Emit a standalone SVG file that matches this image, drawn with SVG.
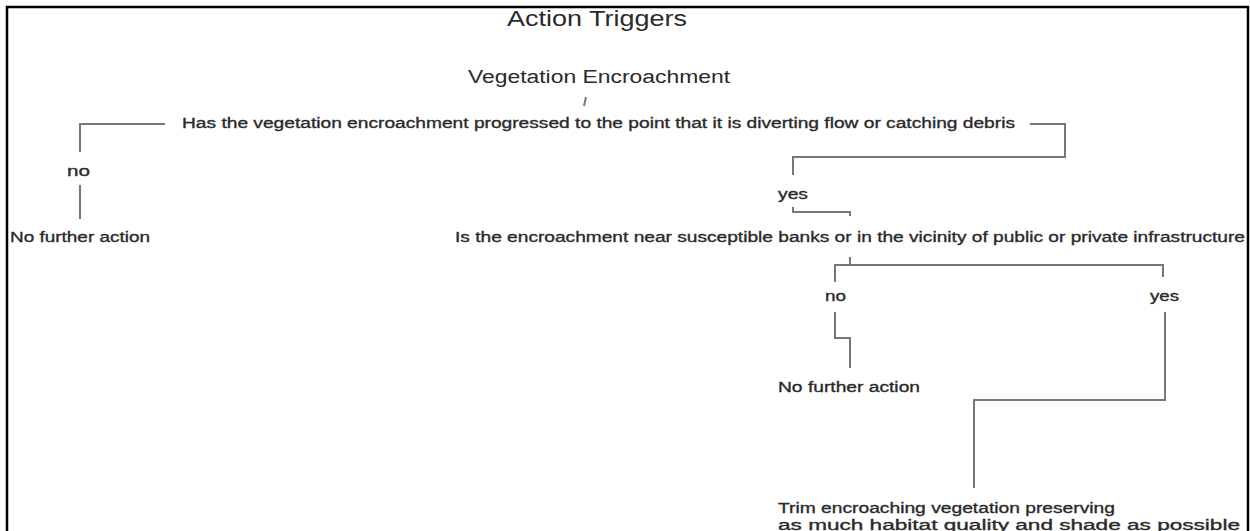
<svg xmlns="http://www.w3.org/2000/svg" width="1250" height="531" viewBox="0 0 1250 531">
<style>
.t{font-family:"Liberation Sans",Arial,sans-serif;fill:#2a2a2a;}
.s{font-size:15.5px;stroke:#2a2a2a;stroke-width:0.35;}
.c{fill:none;stroke:#777;stroke-width:2;}
</style>
<rect x="0" y="0" width="1250" height="531" fill="#fff"/>
<path d="M7,540 V7 H1248 V540" fill="none" stroke="#000" stroke-width="2.5"/>
<g id="title"><text class="t" x="507" y="26" font-size="22" textLength="180" lengthAdjust="spacingAndGlyphs">Action Triggers</text></g>
<g id="start"><text class="t" x="468" y="83" font-size="18" textLength="262" lengthAdjust="spacingAndGlyphs">Vegetation Encroachment</text></g>
<g id="q1"><text class="t s" x="182" y="128" textLength="833" lengthAdjust="spacingAndGlyphs">Has the vegetation encroachment progressed to the point that it is diverting flow or catching debris</text></g>
<g id="no1"><text class="t s" x="67" y="176" textLength="23" lengthAdjust="spacingAndGlyphs">no</text></g>
<g id="end1"><text class="t s" x="10" y="242" textLength="140" lengthAdjust="spacingAndGlyphs">No further action</text></g>
<g id="yes1"><text class="t s" x="778" y="199" textLength="30" lengthAdjust="spacingAndGlyphs">yes</text></g>
<g id="q2"><text class="t s" x="455" y="242" textLength="790" lengthAdjust="spacingAndGlyphs">Is the encroachment near susceptible banks or in the vicinity of public or private infrastructure</text></g>
<g id="no2"><text class="t s" x="825" y="301" textLength="21" lengthAdjust="spacingAndGlyphs">no</text></g>
<g id="yes2"><text class="t s" x="1150" y="301" textLength="29" lengthAdjust="spacingAndGlyphs">yes</text></g>
<g id="end2"><text class="t s" x="778" y="392" textLength="142" lengthAdjust="spacingAndGlyphs">No further action</text></g>
<g id="trim"><text class="t s" x="778" y="513" textLength="337" lengthAdjust="spacingAndGlyphs">Trim encroaching vegetation preserving</text><text class="t s" x="778" y="530" textLength="462" lengthAdjust="spacingAndGlyphs">as much habitat quality and shade as possible</text></g>
<g id="connectors">
<path class="c" stroke-width="1.2" d="M586,97 L584,106"/>
<path class="c" d="M165,124 H80 V152"/>
<path class="c" d="M80,185 V219"/>
<path class="c" d="M1030,124 H1065 V157 H793 V175"/>
<path class="c" d="M793,207 V212 H850 V216"/>
<path class="c" d="M850,257 V265"/>
<path class="c" d="M835,282 V265 H1163 V277"/>
<path class="c" stroke="#444" d="M835,312 V338 H850 V368"/>
<path class="c" d="M1165,312 V400 H974 V488"/>
</g>
</svg>
